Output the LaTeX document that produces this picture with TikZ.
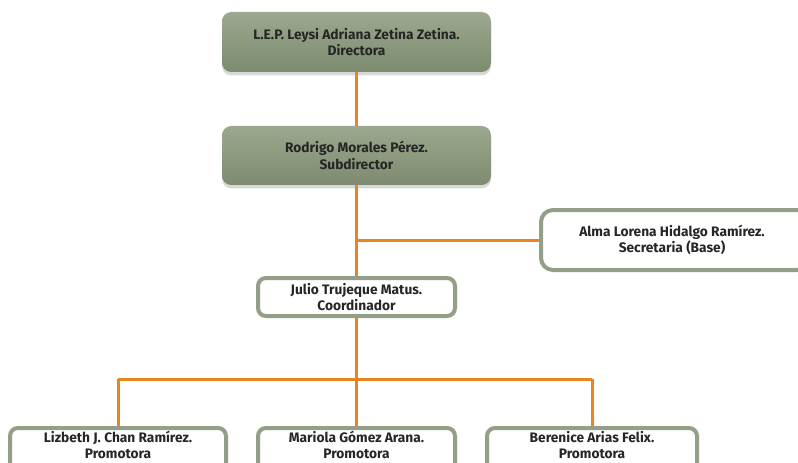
\documentclass[tikz,border=0pt]{standalone}
\usepackage{fontspec}
\setmainfont{Fira Sans}
\usetikzlibrary{shadows}
\definecolor{boxtop}{HTML}{9CA88F}
\definecolor{boxbot}{HTML}{7D8B6F}
\definecolor{boxline}{HTML}{939F86}
\definecolor{conn}{HTML}{E8851E}
\tikzset{
  txt/.style={font=\fontsize{10.3pt}{12.5pt}\selectfont\bfseries, text=black!85, align=center},
  headbox/.style={txt, rectangle, rounded corners=7pt, top color=boxtop, bottom color=boxbot, draw=none,
    drop shadow={shadow xshift=0pt, shadow yshift=-2.5pt, opacity=0.25, fill=black!60},
    minimum width=201.75pt, minimum height=45pt, inner sep=0pt},
  staffbox/.style={txt, rectangle, rounded corners=6pt, fill=white, draw=boxline, line width=3pt, inner sep=0pt},
  link/.style={draw=conn, line width=2.25pt}
}
\begin{document}
\begin{tikzpicture}[x=0.75pt,y=-0.75pt]
\useasboundingbox (0,0) rectangle (798,463);
\clip (0,0) rectangle (798,463);
\fill[white] (0,0) rectangle (798,463);
\coordinate (b1) at (356.5,240);
\coordinate (b2) at (356.5,379);
\node[headbox] (dir) at (356.5,42) {L.E.P. Leysi Adriana Zetina Zetina.\\Directora};
\node[headbox, minimum height=44.25pt] (sub) at (356.5,155.5) {Rodrigo Morales Pérez.\\Subdirector};
\node[staffbox, minimum width=201pt, minimum height=45pt, rounded corners=9pt] (sec) at (675,240) {};
\node[txt] (sect) at (672,240) {Alma Lorena Hidalgo Ramírez.\\Secretaria (Base)};
\node[staffbox, minimum width=147.75pt, minimum height=28.5pt] (coo) at (356.5,297) {Julio Trujeque Matus.\\Coordinador};
\node[staffbox, minimum width=162pt, minimum height=36pt, anchor=north] (p1) at (118,426) {};
\node[staffbox, minimum width=147.75pt, minimum height=36pt, anchor=north] (p2) at (356.5,426) {};
\node[staffbox, minimum width=157.5pt, minimum height=36pt, anchor=north] (p3) at (592,426) {};
\node[txt] (p1t) at (118,445) {Lizbeth J. Chan Ramírez.\\Promotora};
\node[txt] (p2t) at (356.5,445) {Mariola Gómez Arana.\\Promotora};
\node[txt] (p3t) at (592,445) {Berenice Arias Felix.\\Promotora};
\draw[link] (dir.south) -- (sub.north);
\draw[link] (sub.south) -- (coo.north);
\draw[link] (b1) -- (sec.west);
\draw[link] (coo.south) -- (b2);
\draw[link] (b2 -| p1.north) -- (p1.north);
\draw[link] (b2 -| p3.north) -- (p3.north);
\draw[link] (b2 -| p1.north) -- (b2 -| p3.north);
\draw[link] (b2) -- (p2.north);
\end{tikzpicture}
\end{document}
